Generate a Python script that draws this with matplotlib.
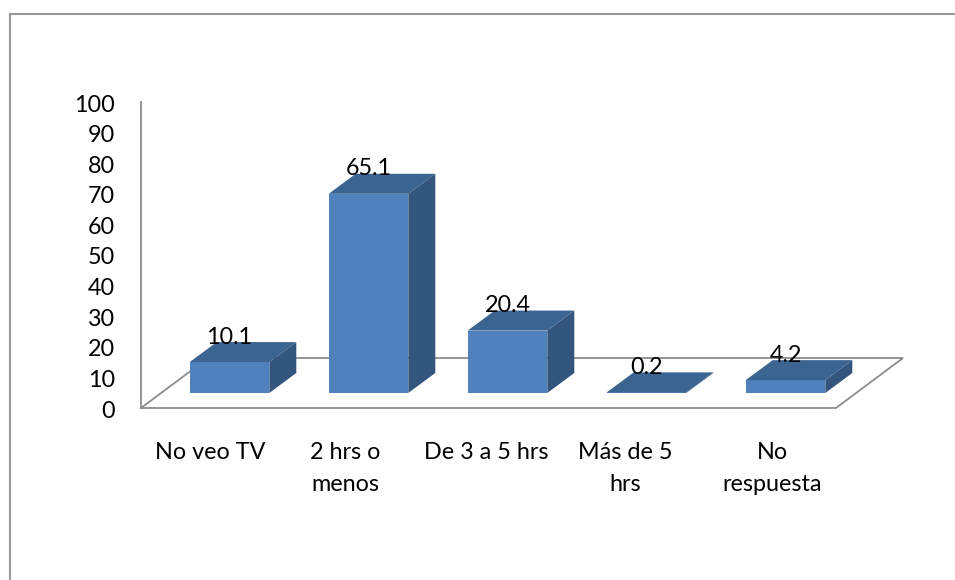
import matplotlib
matplotlib.use("Agg")
import matplotlib.pyplot as plt
from matplotlib.lines import Line2D
from matplotlib.transforms import ScaledTranslation

categories = ["No veo TV", "2 hrs o\nmenos", "De 3 a 5 hrs", "Más de 5\nhrs", "No\nrespuesta"]
values = [10.1, 65.1, 20.4, 0.2, 4.2]
value_labels = ["10.1", "65.1", "20.4", "0.2", "4.2"]
y_ticks = list(range(0, 101, 10))

W, H = 955, 580
plt.rcParams["font.family"] = ["Lato", "DejaVu Sans"]
FS = 16.8
fig = plt.figure(figsize=(W / 100, H / 100), dpi=100, facecolor="white")

# axes: y 0..100 spans pixels 408..102; category i centre at 229.5+139*i
ax_l, ax_r, ax_b, ax_t = 141, 903, 408, 102
ax = fig.add_axes([ax_l / W, 1 - ax_b / H, (ax_r - ax_l) / W, (ax_b - ax_t) / H])
px_x = 139.0
px_y = (ax_b - ax_t) / 100
ax.set_xlim((ax_l - 229.5) / px_x, (ax_r - 229.5) / px_x)
ax.set_ylim(0, 100)
ax.patch.set_alpha(0)
for s in ["top", "right", "bottom"]:
    ax.spines[s].set_visible(False)
ax.spines["left"].set_color("#8c8c8c")
ax.spines["left"].set_linewidth(1.3)
ax.set_xticks([])
ax.set_yticks(y_ticks)
ax.tick_params(axis="y", length=0, pad=18.5, labelsize=FS, labelcolor="black")
shift = ScaledTranslation(0, -1 / 100, fig.dpi_scale_trans)
for t in ax.get_yticklabels():
    t.set_transform(t.get_transform() + shift)

base = (ax_b - 393) / px_y       # bars stand forward of the wall
depth_x = 27 / px_x
depth_y = 20 / px_y
half = 39.8 / px_x

# floor
floor_dx = 67 / px_x
floor_dy = 50 / px_y
x0 = ax.get_xlim()[0]
x1 = x0 + (836 - ax_l) / px_x
ax.plot([x0, x1, x1 + floor_dx, x0 + floor_dx, x0],
        [0, 0, floor_dy, floor_dy, 0],
        color="#8c8c8c", lw=1.3, clip_on=False, zorder=1, solid_joinstyle="miter")

xs = list(range(len(values)))
ax.bar(xs, values, width=2 * half, bottom=base, color="#4F81BD", zorder=3, clip_on=False,
       linewidth=0)
for x, v, lab in zip(xs, values, value_labels):
    top = base + v
    l, r = x - half, x + half
    ax.fill([l, r, r + depth_x, l + depth_x], [top, top, top + depth_y, top + depth_y],
            color="#3C6491", lw=0, zorder=4, clip_on=False)
    ax.fill([r, r + depth_x, r + depth_x, r], [base, base + depth_y, top + depth_y, top],
            color="#34557E", lw=0, zorder=4, clip_on=False)
    ax.text(x, top + 25 / px_y, lab, ha="center", va="center", fontsize=FS, color="black",
            zorder=6, clip_on=False)

label_nudges = [-19.5, -23, -21, -21, -13]
label_y = (ax_b - 442) / px_y
for x, c, n in zip(xs, categories, label_nudges):
    ax.text(x + n / px_x, label_y, c, ha="center", va="top", fontsize=FS, color="black",
            linespacing=1.65, clip_on=False)

# outer chart frame (only top and left fall inside the picture)
frame_col = "#989898"
fig.add_artist(Line2D([9.5 / W, 9.5 / W], [0, 1 - 14 / H], color=frame_col, lw=1.5,
                      transform=fig.transFigure))
fig.add_artist(Line2D([9.5 / W, 1], [1 - 14 / H, 1 - 14 / H], color=frame_col, lw=1.5,
                      transform=fig.transFigure))

fig.savefig("out.png", dpi=100, facecolor="white")
